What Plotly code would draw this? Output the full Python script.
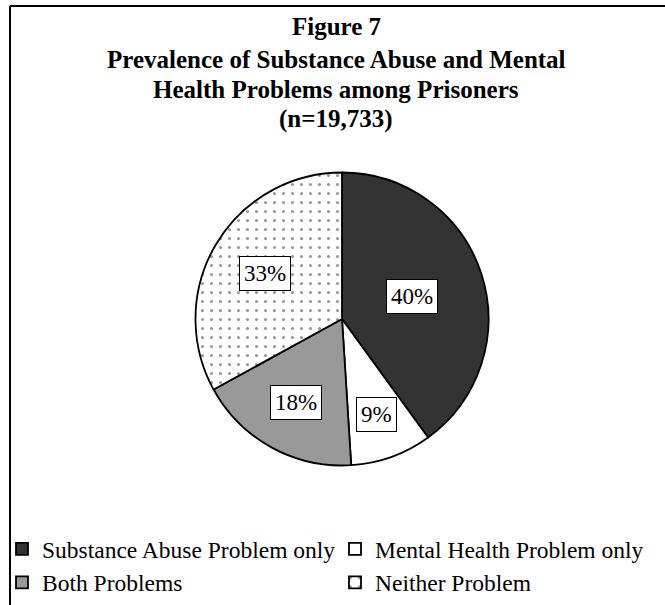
import math
import plotly.graph_objects as go

# ---- data ----
categories = ["Substance Abuse Problem only", "Mental Health Problem only",
              "Both Problems", "Neither Problem"]
percent_values = [40, 9, 18, 33]
title_lines = ["Figure 7",
               "Prevalence of Substance Abuse and Mental",
               "Health Problems among Prisoners",
               "(n=19,733)"]

# ---- style ----
slice_colors = ["#333333", "#ffffff", "#999999", "#ffffff"]
pattern_shapes = ["", "", "", "."]
label_radius = [0.50, 0.69, 0.65, 0.61]  # fraction of radius for label boxes
FONT = "Liberation Serif, Times New Roman, serif"

W, H = 665, 605
cx, cy, R = 342.0, 319.0, 146.5
dom_x = [(cx - R) / W, (cx + R) / W]
dom_y = [(H - cy - R) / H, (H - cy + R) / H]

fig = go.Figure()
fig.add_trace(go.Pie(
    labels=categories,
    values=percent_values,
    sort=False,
    direction="clockwise",
    rotation=0,
    textinfo="none",
    hoverinfo="label+percent",
    marker=dict(
        colors=slice_colors,
        line=dict(color="#000000", width=1.8),
        pattern=dict(shape=pattern_shapes, fgcolor="#333333", bgcolor="#ffffff",
                     size=9, solidity=0.1, fillmode="overlay"),
    ),
    domain=dict(x=dom_x, y=dom_y),
    showlegend=True,
))

# percentage label boxes positioned from slice mid-angles
total = sum(percent_values)
cum = 0.0
annotations = []
for v, rf in zip(percent_values, label_radius):
    mid = (cum + v / 2) / total * 2 * math.pi
    cum += v
    dx = math.sin(mid) * R * rf
    dy = math.cos(mid) * R * rf
    annotations.append(dict(
        x=(cx + dx) / W, y=(H - cy + dy) / H, xref="paper", yref="paper",
        text=f"{round(v / total * 100)}%", showarrow=False,
        font=dict(family=FONT, size=23, color="#000000"),
        bgcolor="#ffffff", bordercolor="#000000", borderwidth=1, borderpad=4,
        xanchor="center", yanchor="middle",
    ))

# title lines
title_y = [26, 59, 89, 119]
for t, ty in zip(title_lines, title_y):
    annotations.append(dict(
        x=336 / W, y=(H - ty) / H, xref="paper", yref="paper",
        text=f"<b>{t}</b>", showarrow=False,
        font=dict(family=FONT, size=25, color="#000000"),
        xanchor="center", yanchor="middle",
    ))

shapes = [
    dict(type="line", xref="paper", yref="paper", x0=10 / W, x1=1, y0=(H - 6) / H, y1=(H - 6) / H,
         line=dict(color="#000000", width=2)),
    dict(type="line", xref="paper", yref="paper", x0=10 / W, x1=10 / W, y0=0, y1=(H - 6) / H,
         line=dict(color="#000000", width=2)),
]

fig.update_layout(
    width=W, height=H, autosize=False,
    margin=dict(l=0, r=0, t=0, b=0, autoexpand=False),
    paper_bgcolor="#ffffff", plot_bgcolor="#ffffff",
    font=dict(family=FONT, color="#000000"),
    annotations=annotations,
    shapes=shapes,
    legend=dict(
        orientation="h",
        x=2 / W, xanchor="left",
        y=(H - 527) / H, yanchor="top",
        entrywidth=288, entrywidthmode="pixels",
        font=dict(family=FONT, size=23.5, color="#000000"),
        bgcolor="rgba(0,0,0,0)",
        traceorder="normal",
    ),
)

fig.write_html("out.html")
